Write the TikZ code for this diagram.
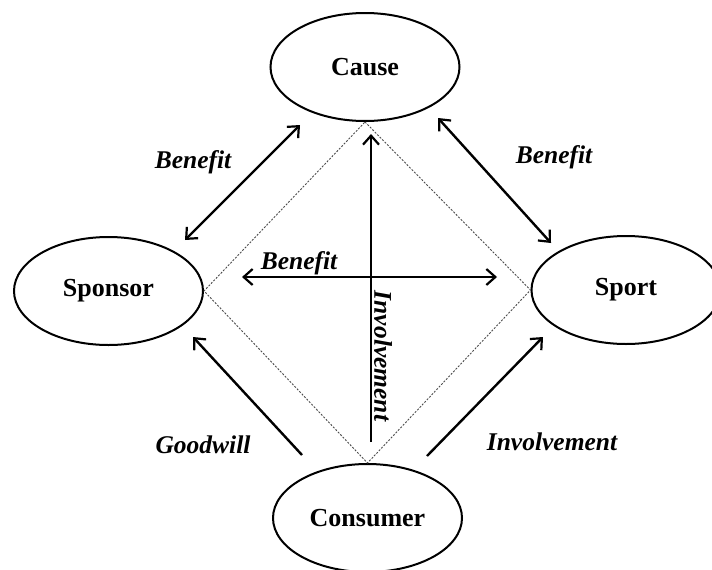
\documentclass[tikz,border=0pt]{standalone}
\usepackage{fontspec}
\setmainfont{Liberation Serif}
\usetikzlibrary{shapes.geometric,arrows.meta}
\begin{document}
\begin{tikzpicture}[x=1pt,y=-1pt,
  ent/.style={ellipse, draw, line width=2pt, minimum width=189pt, minimum height=108pt, inner sep=0pt, font=\fontsize{26}{30}\selectfont\bfseries},
  lab/.style={inner sep=0pt, font=\fontsize{25.5}{29}\selectfont\bfseries\itshape},
  tip/.tip={Straight Barb[length=9pt,width=16pt,line width=2.2pt]},
  arr/.style={line width=2.4pt, -tip},
  darr/.style={line width=2.4pt, tip-tip},
  diam/.style={gray!60!black, line width=0.9pt, dash pattern=on 2pt off 1.5pt}]
\useasboundingbox (0,0) rectangle (712,570);
\clip (0,0) rectangle (712,570);
\fill[white] (0,0) rectangle (712,570);

\node[ent] (cause) at (365,67) {Cause};
\node[ent] (sponsor) at (108.5,291) {Sponsor};
\node[ent] (sport) at (626,290) {Sport};
\node[ent] (consumer) at (367.5,518) {Consumer};

\draw[diam] (cause.south) -- (sport.west) -- (consumer.north) -- (sponsor.east) -- cycle;

\coordinate (bl1) at (185,240);
\coordinate (bl2) at (300,125);
\coordinate (br1) at (438,118);
\coordinate (br2) at (551,243);
\coordinate (h1) at (242,277);
\coordinate (h2) at (497,277);
\coordinate (v1) at (371,442);
\coordinate (v2) at (371,134);
\coordinate (g1) at (302,455);
\coordinate (g2) at (193,337);
\coordinate (i1) at (427,456);
\coordinate (i2) at (543,337);

\draw[darr] (bl1) -- (bl2);
\draw[darr] (br1) -- (br2);
\draw[darr] (h1) -- (h2);
\draw[arr] (v1) -- (v2);
\draw[arr] (g1) -- (g2);
\draw[arr] (i1) -- (i2);

\node[lab] (lb1) at (193,162) {Benefit};
\node[lab] (lb2) at (554,157) {Benefit};
\node[lab] (lb3) at (299,263) {Benefit};
\node[lab, rotate=-90] (lv) at (383,356) {Involvement};
\node[lab] (lg) at (203,445) {Goodwill};
\node[lab] (li) at (552,442) {Involvement};
\end{tikzpicture}
\end{document}
